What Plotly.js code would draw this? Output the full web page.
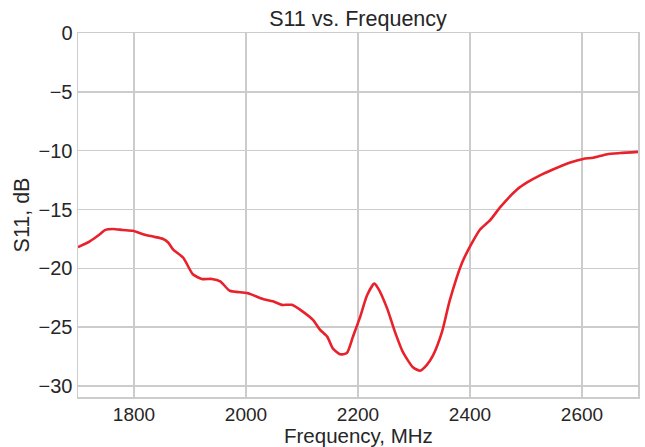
<!DOCTYPE html>
<html><head><meta charset="utf-8">
<script src="https://cdn.plot.ly/plotly-3.0.1.min.js"></script>
<style>html,body{margin:0;padding:0;background:#fff}#chart{width:645px;height:447px}</style>
</head><body><div id="chart"></div>
<script>
const freqMHz = [1700,1721,1739,1748,1763,1780,1798,1816,1834,1852,1861,1870,1888,1905,1921,1939,1954,1971,2002,2030,2048,2064,2082,2102,2120,2132,2145,2155,2168,2180,2191,2204,2216,2229,2236,2252,2266,2280,2298,2311,2323,2334,2350,2364,2386,2404,2418,2436,2454,2484,2502,2525,2548,2579,2602,2620,2645,2668,2700];
const s11dB = [-18.2,-17.7,-17.1,-16.75,-16.65,-16.74,-16.8,-17.1,-17.3,-17.5,-17.8,-18.4,-19.1,-20.5,-20.9,-20.9,-21.1,-21.9,-22.1,-22.6,-22.8,-23.1,-23.1,-23.7,-24.4,-25.2,-25.8,-26.8,-27.3,-27.2,-25.8,-24.1,-22.3,-21.3,-21.7,-23.4,-25.4,-27.1,-28.4,-28.7,-28.2,-27.4,-25.4,-22.7,-19.5,-17.8,-16.7,-15.9,-14.8,-13.3,-12.7,-12.1,-11.6,-11.0,-10.7,-10.6,-10.3,-10.2,-10.1];
const xTicks = [1800,2000,2200,2400,2600];
const yTicks = [0,-5,-10,-15,-20,-25,-30];

const fam = '"Liberation Sans", Arial, sans-serif';
const tickFont = {family:fam, size:20, color:'#262626'};
const xTickFont = {family:fam, size:19, color:'#262626'};
const titleFont = {family:fam, size:21.5, color:'#262626'};
const xTitleFont = {family:fam, size:20.5, color:'#262626'};
Plotly.newPlot('chart', [{
  x: freqMHz, y: s11dB, type:'scatter', mode:'lines',
  line:{color:'#e8212b', width:2.6, shape:'spline', smoothing:0.6}
}], {
  width:645, height:447,
  margin:{l:78, r:7, t:33, b:50},
  paper_bgcolor:'#fff', plot_bgcolor:'#fff',
  font: tickFont,
  showlegend:false,
  title:{text:'S11 vs. Frequency', xref:'paper', x:0.5, xanchor:'center', y:0.958, yanchor:'middle', font:titleFont},
  xaxis:{range:[1700,2700], tickvals:xTicks, ticktext:xTicks.map(String), showgrid:true, gridcolor:'#cccccc', gridwidth:1.5,
    zeroline:false, showline:true, linecolor:'#cccccc', linewidth:1.5, mirror:true, ticks:'', ticklen:0, tickfont:xTickFont},
  yaxis:{range:[-30.93,0], tickvals:yTicks, showgrid:true, gridcolor:'#cccccc', gridwidth:1.5,
    zeroline:false, showline:true, linecolor:'#cccccc', linewidth:1.5, mirror:true, ticks:'', ticklen:0,
    title:{text:'S11, dB', font:titleFont, standoff:3}, tickfont:tickFont},
  annotations:[{text:'Frequency, MHz', xref:'paper', yref:'paper', x:0.5, y:-0.107, xanchor:'center', yanchor:'middle',
    showarrow:false, font:xTitleFont}]
}, {displayModeBar:false, staticPlot:true});
</script></body></html>
